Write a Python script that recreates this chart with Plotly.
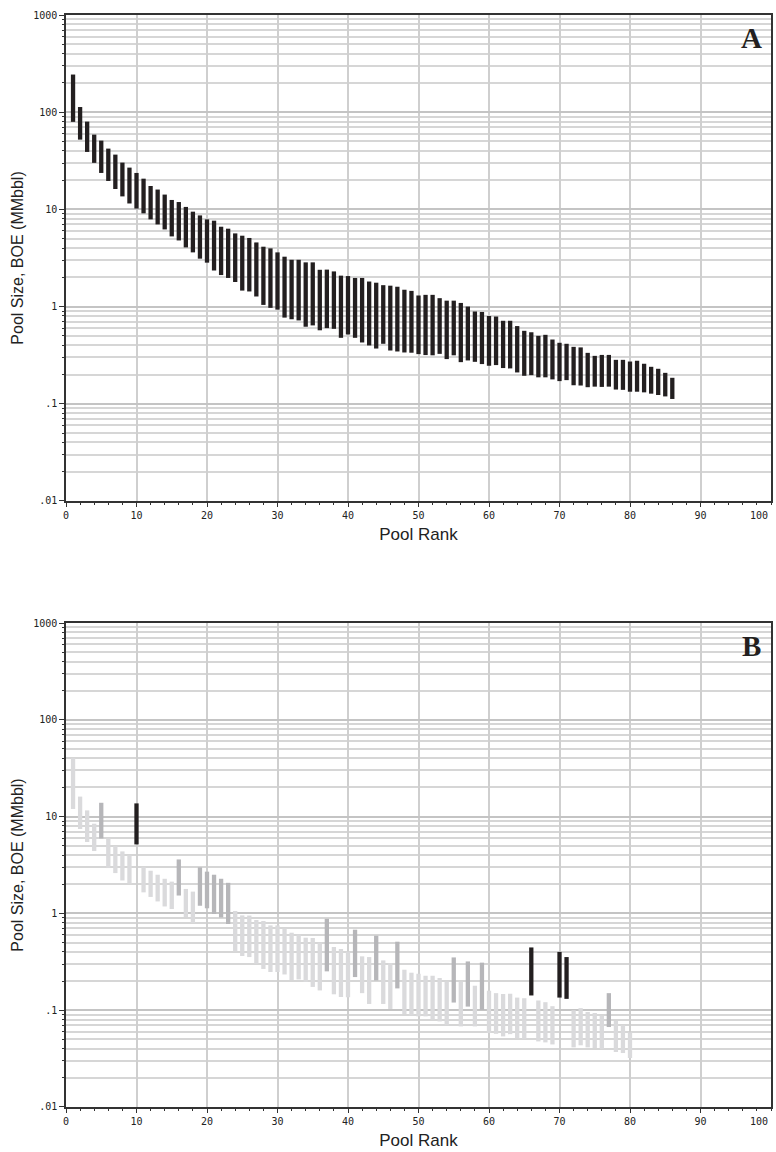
import plotly.graph_objects as go

# ---------------- data ----------------
ranks_a = list(range(1, 87))
a_top = [244, 113, 80, 58.8, 51.0, 42.2, 36.6, 30.3, 26.9, 23.7,
         20.7, 17.4, 16.0, 14.2, 12.5, 11.9, 10.6, 9.47, 8.67, 7.89,
         7.65, 6.63, 6.33, 5.66, 5.36, 5.08, 4.57, 4.13, 3.97, 3.61,
         3.26, 3.03, 3.03, 2.85, 2.85, 2.39, 2.40, 2.30, 2.08, 2.06,
         1.97, 1.97, 1.81, 1.76, 1.66, 1.64, 1.60, 1.49, 1.45, 1.30,
         1.32, 1.32, 1.22, 1.15, 1.15, 1.09, 1.00, 0.89, 0.88, 0.80,
         0.79, 0.714, 0.714, 0.63, 0.563, 0.544, 0.50, 0.512, 0.458, 0.424,
         0.414, 0.385, 0.38, 0.334, 0.311, 0.318, 0.318, 0.283, 0.283, 0.272,
         0.277, 0.258, 0.24, 0.229, 0.208, 0.185]
a_bot = [79.5, 52.2, 39.0, 30.1, 23.7, 19.6, 16.2, 13.6, 11.5, 10.2,
         9.1, 7.89, 7.0, 6.22, 5.27, 4.79, 4.06, 3.61, 3.11, 2.83,
         2.35, 2.11, 1.97, 1.79, 1.46, 1.43, 1.27, 1.04, 0.97, 0.93,
         0.77, 0.74, 0.72, 0.62, 0.64, 0.57, 0.60, 0.59, 0.477, 0.516,
         0.477, 0.427, 0.398, 0.370, 0.414, 0.353, 0.345, 0.337, 0.335, 0.324,
         0.317, 0.315, 0.326, 0.288, 0.315, 0.268, 0.279, 0.27, 0.256, 0.246,
         0.25, 0.233, 0.231, 0.21, 0.194, 0.197, 0.187, 0.187, 0.178, 0.171,
         0.175, 0.155, 0.154, 0.148, 0.15, 0.149, 0.15, 0.14, 0.139, 0.133,
         0.133, 0.131, 0.127, 0.123, 0.119, 0.112]

ranks_b = list(range(1, 81))
b_top = [40.3, 16.1, 11.6, 8.45, 13.9, 5.95, 4.97, 4.37, 3.97, 13.7,
         3.04, 2.76, 2.51, 2.28, 2.13, 3.61, 1.79, 1.68, 2.99, 2.70,
         2.51, 2.28, 2.07, 1.06, 0.954, 0.95, 0.855, 0.835, 0.752, 0.752,
         0.70, 0.632, 0.607, 0.561, 0.557, 0.50, 0.88, 0.45, 0.429, 0.405,
         0.679, 0.36, 0.354, 0.588, 0.327, 0.307, 0.51, 0.262, 0.244, 0.238,
         0.227, 0.227, 0.215, 0.198, 0.351, 0.197, 0.319, 0.179, 0.31, 0.159,
         0.15, 0.147, 0.148, 0.135, 0.133, 0.445, 0.126, 0.121, 0.11, 0.40,
         0.354, 0.10, 0.105, 0.0958, 0.0936, 0.0877, 0.15, 0.0773, 0.0697, 0.059]
b_bot = [12.0, 7.45, 5.47, 4.41, 5.95, 2.94, 2.61, 2.19, 2.03, 5.16,
         1.65, 1.48, 1.33, 1.18, 1.11, 1.53, 0.918, 0.796, 1.20, 1.13,
         0.986, 0.909, 0.777, 0.405, 0.363, 0.354, 0.302, 0.267, 0.248, 0.248,
         0.234, 0.205, 0.208, 0.196, 0.174, 0.16, 0.252, 0.146, 0.137, 0.136,
         0.22, 0.15, 0.116, 0.203, 0.116, 0.103, 0.168, 0.0913, 0.0884, 0.0864,
         0.0864, 0.0798, 0.0766, 0.0697, 0.12, 0.068, 0.109, 0.068, 0.101, 0.0581,
         0.057, 0.0536, 0.0566, 0.0511, 0.0505, 0.142, 0.0476, 0.0465, 0.0443, 0.135,
         0.131, 0.0413, 0.0434, 0.0413, 0.0407, 0.0397, 0.067, 0.037, 0.0361, 0.0321]
# shade class of each panel-B bar: L = light, M = medium, K = black
b_class = ["L"] * 80
for r in [5, 16, 19, 20, 21, 22, 23, 37, 41, 44, 47, 55, 57, 59, 77]:
    b_class[r - 1] = "M"
for r in [10, 66, 70, 71]:
    b_class[r - 1] = "K"

y_tickvals = [0.01, 0.1, 1, 10, 100, 1000]
y_ticktext = [".01", ".1", "1", "10", "100", "1000"]
x_tickvals = list(range(0, 101, 10))
x_ticktext = [str(v) for v in x_tickvals]

# ---------------- styling ----------------
BLACK = "#231f20"
MED = "#b6b6b9"
LIGHT = "#dadadc"
BAR_W = 4.3


def segs(xs, lo, hi):
    X, Y = [], []
    for x, l, h in zip(xs, lo, hi):
        X += [x, x, None]
        Y += [l, h, None]
    return X, Y


fig = go.Figure()

X, Y = segs(ranks_a, a_bot, a_top)
fig.add_trace(go.Scatter(x=X, y=Y, mode="lines", xaxis="x", yaxis="y",
                         line=dict(color=BLACK, width=BAR_W), showlegend=False,
                         hoverinfo="skip"))

for cls, col in [("L", LIGHT), ("M", MED), ("K", BLACK)]:
    xs = [r for r, c in zip(ranks_b, b_class) if c == cls]
    lo = [v for v, c in zip(b_bot, b_class) if c == cls]
    hi = [v for v, c in zip(b_top, b_class) if c == cls]
    X, Y = segs(xs, lo, hi)
    fig.add_trace(go.Scatter(x=X, y=Y, mode="lines", xaxis="x2", yaxis="y2",
                             line=dict(color=col, width=BAR_W), showlegend=False,
                             hoverinfo="skip"))

minor_y = [m * 10 ** e for e in range(-2, 3) for m in range(2, 10)]
tickfont = dict(family="DejaVu Sans Mono", size=10, color="#222")
titlefont_y = dict(family="Liberation Sans, Arial", size=16, color="#222")
titlefont_x = dict(family="Liberation Sans, Arial", size=17, color="#222")

# last tick label ("100") sits at the very edge; shown via an annotation
xaxis_common = dict(range=[0, 100], tickmode="array", tickvals=x_tickvals,
                    ticktext=x_ticktext[:-1] + [""],
                    ticks="outside", ticklen=4, tickcolor="#333", tickwidth=1,
                    showgrid=True, gridcolor="#cfcfcf", gridwidth=1.5,
                    showline=True, linecolor="#333", linewidth=1.5, mirror=True,
                    zeroline=False, tickfont=tickfont,
                    minor=dict(tickmode="array", tickvals=list(range(0, 101, 2)),
                               ticks="outside", ticklen=2, tickcolor="#333",
                               showgrid=False),
                    title=dict(text="Pool Rank", font=titlefont_x, standoff=8))
yaxis_common = dict(type="log", range=[-2, 3], tickmode="array",
                    tickvals=y_tickvals, ticktext=y_ticktext,
                    ticks="outside", ticklen=5, tickcolor="#333", tickwidth=1,
                    showgrid=True, gridcolor="#c4c4c4", gridwidth=2,
                    showline=True, linecolor="#333", linewidth=1.5, mirror=True,
                    zeroline=False, tickfont=tickfont,
                    minor=dict(tickmode="array", tickvals=minor_y,
                               ticks="outside", ticklen=2, tickcolor="#333",
                               showgrid=True, gridcolor="#d6d6d6", gridwidth=1.5),
                    title=dict(text="Pool Size, BOE (MMbbl)", font=titlefont_y,
                               standoff=6))

annotations = []
for xr, yr, lab in [("x", "y", "A"), ("x2", "y2", "B")]:
    annotations.append(dict(text="<b>%s</b>" % lab, xref=xr + " domain",
                            yref=yr + " domain", x=0.973, y=0.953,
                            xanchor="center", yanchor="middle", showarrow=False,
                            font=dict(family="Liberation Serif", size=29,
                                      color=BLACK)))
    annotations.append(dict(text=x_ticktext[-1], xref=xr, yref=yr + " domain",
                            x=x_tickvals[-1], y=0, xanchor="right", yanchor="top",
                            xshift=-1, yshift=-7, showarrow=False, font=tickfont))

fig.update_layout(
    width=776, height=1152,
    margin=dict(l=66, r=3, t=15, b=45),
    paper_bgcolor="white", plot_bgcolor="white",
    xaxis=dict(domain=[0, 1], anchor="y", **xaxis_common),
    yaxis=dict(domain=[0.555, 1], anchor="x", **yaxis_common),
    xaxis2=dict(domain=[0, 1], anchor="y2", **xaxis_common),
    yaxis2=dict(domain=[0, 0.4432], anchor="x2", **yaxis_common),
    annotations=annotations,
)

fig.write_html("out.html")
